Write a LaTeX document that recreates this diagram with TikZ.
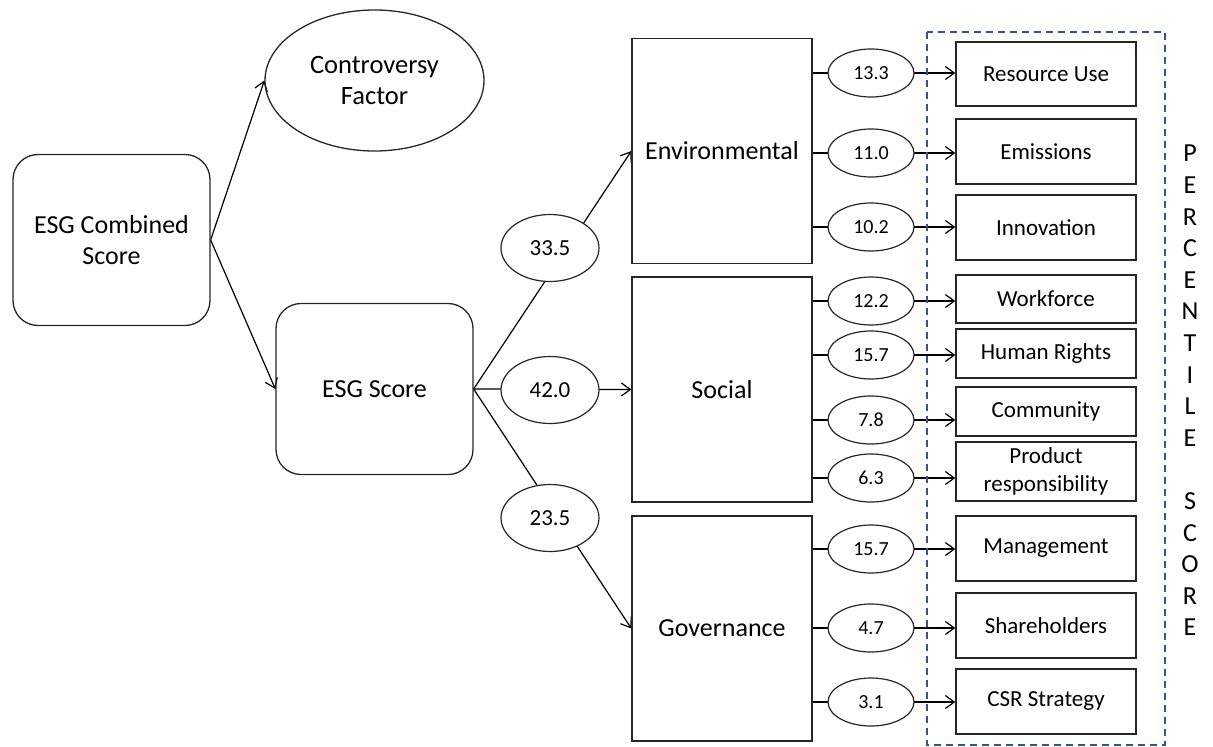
\documentclass[tikz,border=0pt]{standalone}
\usepackage{fontspec}
\setmainfont{Carlito}
\usetikzlibrary{shapes.geometric,arrows.meta}

\definecolor{dashblue}{RGB}{47,85,151}
\pgfdeclarelayer{back}
\pgfsetlayers{back,main}

\tikzset{
  pillar/.style={draw=black!85, line width=1.3pt, rounded corners=25pt, minimum width=197pt, minimum height=171pt, align=center, font=\fontsize{26}{31}\selectfont},
  dimbox/.style={draw=black!85, line width=1.3pt, minimum width=180pt, minimum height=225pt, font=\fontsize{26}{31}\selectfont},
  subbox/.style={draw=black!85, line width=1.3pt, minimum width=180pt, align=center, font=\fontsize{23}{28}\selectfont},
  weight/.style={draw=black!85, ellipse, fill=white, line width=1.2pt, inner sep=0pt, minimum width=98pt, minimum height=67pt, font=\fontsize{23}{27}\selectfont},
  subweight/.style={draw=black!85, ellipse, fill=white, line width=1.2pt, inner sep=0pt, minimum width=86pt, minimum height=48pt, font=\fontsize{20}{24}\selectfont},
  link/.style={line width=1.2pt, -{Straight Barb[length=9pt,width=13pt]}},
}

\begin{document}
\begin{tikzpicture}[x=1pt,y=-1pt]
\useasboundingbox (0,0) rectangle (1213,747);

% left part
\node[pillar] (combined) at (111.5,240) {ESG Combined\\Score};
\node[draw=black!85, ellipse, line width=1.3pt, inner sep=0pt, minimum width=219pt, minimum height=141pt, align=center, font=\fontsize{26.5}{31}\selectfont] (contro) at (374.5,80.5) {Controversy\\Factor};
\node[pillar] (esg) at (374.5,389) {ESG Score};

% pillars
\node[dimbox] (env) at (722,151) {Environmental};
\node[dimbox] (soc) at (722,389.5) {Social};
\node[dimbox] (gov) at (722,628.5) {Governance};

\node[weight] (wenv) at (550,248) {33.5};
\node[weight] (wsoc) at (550,390) {42.0};
\node[weight] (wgov) at (550,518) {23.5};

% categories
\node[subbox, minimum height=64pt] (res) at (1046,74) {Resource Use};
\node[subbox, minimum height=65pt] (emi) at (1046,151.5) {Emissions};
\node[subbox, minimum height=65pt] (inn) at (1046,227.5) {Innovation};
\node[subbox, minimum height=48pt] (wor) at (1046,299) {Workforce};
\node[subbox, minimum height=49pt] (hum) at (1046,353.5) {Human Rights};
\node[subbox, minimum height=49pt] (com) at (1046,411.5) {Community};
\node[subbox, minimum height=59pt, inner sep=1pt] (pro) at (1046,471.5) {Product\\responsibility};
\node[subbox, minimum height=65pt] (man) at (1046,548.5) {Management};
\node[subbox, minimum height=65pt] (sha) at (1046,625.5) {Shareholders};
\node[subbox, minimum height=65pt] (csr) at (1046,701.5) {CSR Strategy};

\node[subweight] (wres) at (871,73) {13.3};
\node[subweight] (wemi) at (871,153) {11.0};
\node[subweight] (winn) at (871,227) {10.2};
\node[subweight] (wwor) at (871,301) {12.2};
\node[subweight] (whum) at (871,355) {15.7};
\node[subweight] (wcom) at (871,420) {7.8};
\node[subweight] (wpro) at (871,478) {6.3};
\node[subweight] (wman) at (871,549) {15.7};
\node[subweight] (wsha) at (871,628) {4.7};
\node[subweight] (wcsr) at (871,702) {3.1};

% percentile frame
\draw[dashblue, line width=1.8pt, dash pattern=on 7pt off 5pt] (927,32) rectangle (1165,745);
\node[align=center, font=\fontsize{26}{31.6}\selectfont] (pct) at (1190,390.5) {P\\E\\R\\C\\E\\N\\T\\I\\L\\E\\[31.6pt]S\\C\\O\\R\\E};

\begin{pgfonlayer}{back}
\draw[link] (combined.east) -- (contro.west);
\draw[link] (combined.east) -- (esg.west);
\draw[link] (esg.east) -- (env.west);
\draw[link] (esg.east) -- (soc.west);
\draw[link] (esg.east) -- (gov.west);

\draw[link] (env.east |- wres) -- (wres -| res.west);
\draw[link] (env.east |- wemi) -- (wemi -| emi.west);
\draw[link] (env.east |- winn) -- (winn -| inn.west);
\draw[link] (soc.east |- wwor) -- (wwor -| wor.west);
\draw[link] (soc.east |- whum) -- (whum -| hum.west);
\draw[link] (soc.east |- wcom) -- (wcom -| com.west);
\draw[link] (soc.east |- wpro) -- (wpro -| pro.west);
\draw[link] (gov.east |- wman) -- (wman -| man.west);
\draw[link] (gov.east |- wsha) -- (wsha -| sha.west);
\draw[link] (gov.east |- wcsr) -- (wcsr -| csr.west);
\end{pgfonlayer}
\end{tikzpicture}
\end{document}
